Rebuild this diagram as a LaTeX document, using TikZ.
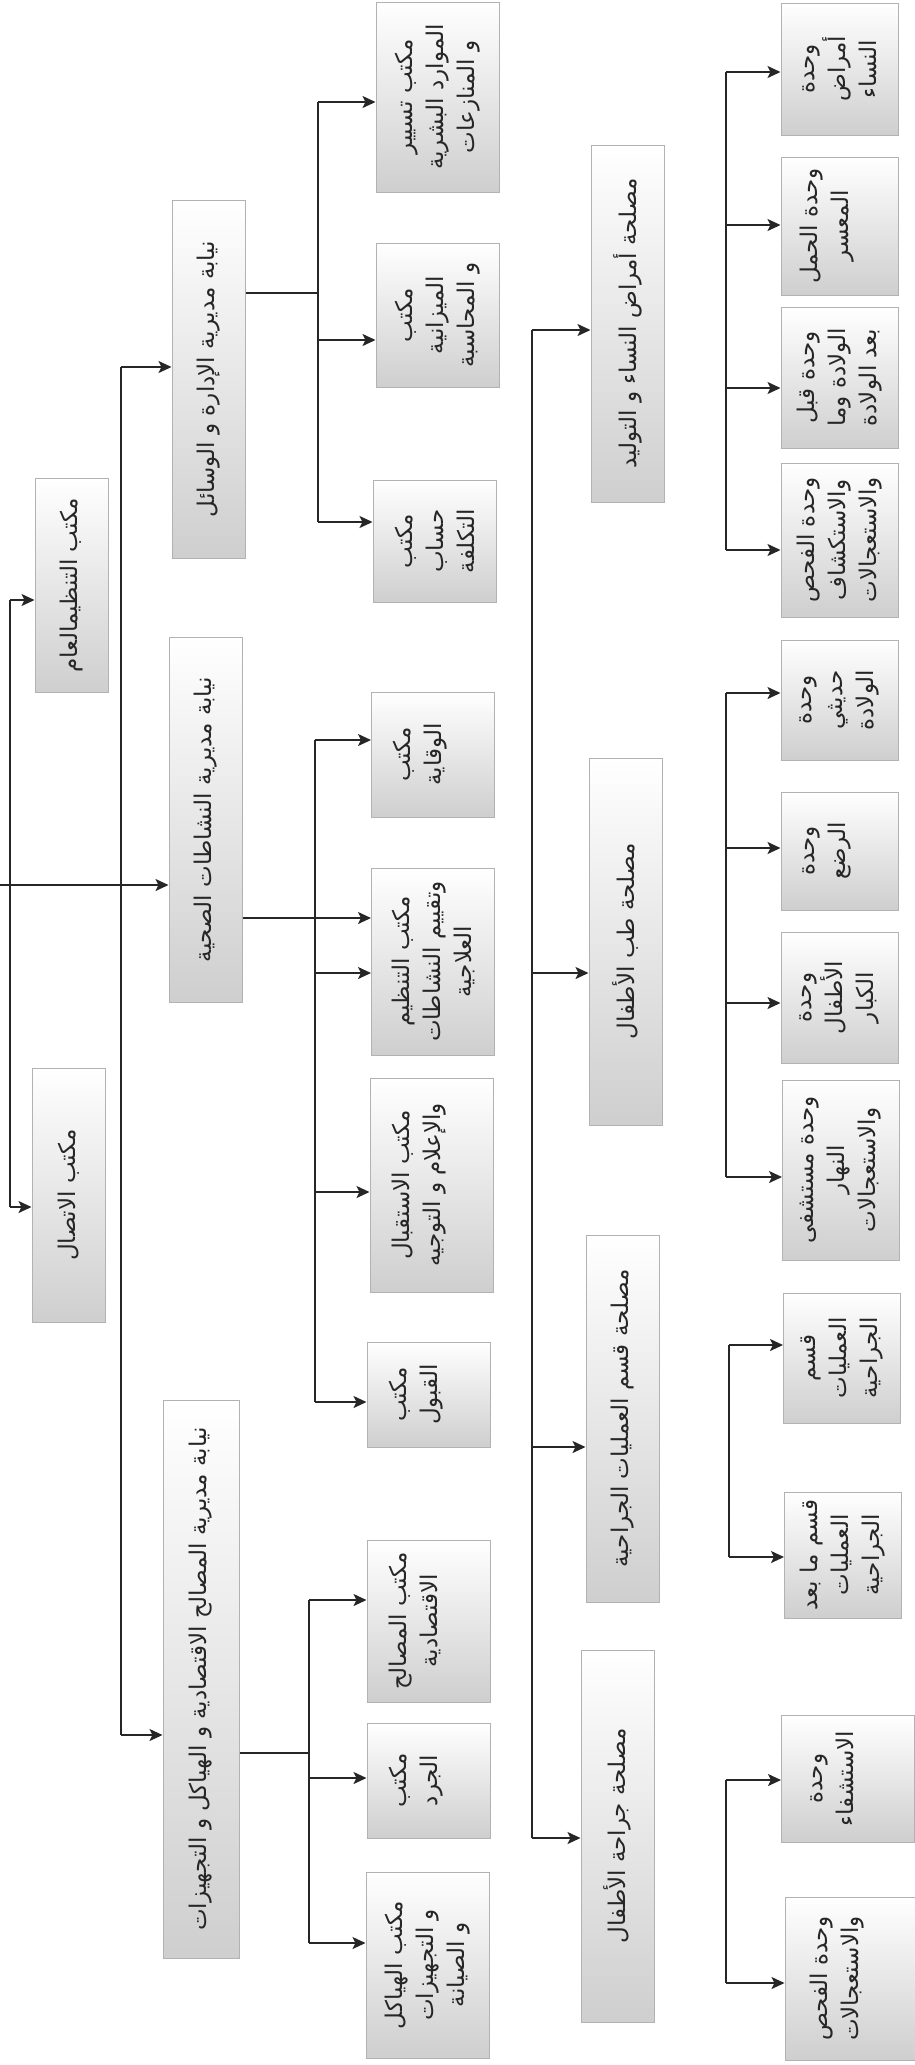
\documentclass[tikz,border=0pt]{standalone}
\usepackage{fontspec}
\newfontfamily\arfont[Script=Arabic]{DejaVu Sans}
\TeXXeTstate=1
\usetikzlibrary{arrows.meta}
\newcommand{\artxt}[1]{\beginR #1\endR}

\begin{document}
\begin{tikzpicture}[x=1pt,y=-1pt,
  box/.style={draw=gray!60,line width=1pt,rotate=90,top color=white,bottom color=gray!38,
    inner sep=2pt,align=center,text=black!85,font=\arfont\fontsize{23}{31}\selectfont},
  top/.style={box,minimum height=73pt},
  off/.style={box,minimum height=123pt},
  unit/.style={box,minimum height=117pt},
  ln/.style={draw=black!85,line width=1.3pt},
  arr/.style={ln,line width=1.8pt,-{Stealth[length=13pt,width=12pt,inset=3pt]}}]
\fill[white] (0,0) rectangle (914,2065);
\useasboundingbox (0,0) rectangle (914,2065);

\node[top,minimum width=214pt] (org) at (71.5,585) {\artxt{مكتب التنظيمالعام}};
\node[top,minimum width=254pt] (comm) at (68.5,1195) {\artxt{مكتب الاتصال}};

\node[top,minimum width=358pt] (adm) at (208.5,379) {\artxt{نيابة مديرية الإدارة و الوسائل}};
\node[top,minimum width=365pt] (hlt) at (205.5,819.5) {\artxt{نيابة مديرية النشاطات الصحية}};
\node[top,minimum width=558pt,minimum height=76pt] (eco) at (201,1679) {\artxt{نيابة مديرية المصالح الاقتصادية و الهياكل و التجهيزات}};

\node[off,minimum width=190pt] (hr) at (437.5,97) {\artxt{مكتب تسيير}\\\artxt{الموارد البشرية}\\\artxt{و المنازعات}};
\node[off,minimum width=144pt] (bud) at (437.5,315) {\artxt{مكتب}\\\artxt{الميزانية}\\\artxt{و المحاسبة}};
\node[off,minimum width=122pt] (cost) at (434.5,541) {\artxt{مكتب}\\\artxt{حساب}\\\artxt{التكلفة}};
\node[off,minimum width=125pt] (prev) at (433,754.5) {\artxt{مكتب}\\\artxt{الوقاية}\\\mbox{}};
\node[off,minimum width=187pt] (plan) at (433,961.5) {\artxt{مكتب التنظيم}\\\artxt{وتقييم النشاطات}\\\artxt{العلاجية}};
\node[off,minimum width=214pt] (recv) at (431.5,1185) {\artxt{مكتب الاستقبال}\\\artxt{والإعلام و التوجيه}\\\mbox{}};
\node[off,minimum width=105pt] (acc) at (428.5,1394.5) {\artxt{مكتب}\\\artxt{القبول}\\\mbox{}};
\node[off,minimum width=162pt] (eserv) at (428.5,1621) {\artxt{مكتب المصالح}\\\artxt{الاقتصادية}\\\mbox{}};
\node[off,minimum width=115pt] (inv) at (428.5,1780.5) {\artxt{مكتب}\\\artxt{الجرد}\\\mbox{}};
\node[off,minimum width=186pt] (maint) at (427.5,1965) {\artxt{مكتب الهياكل}\\\artxt{و التجهيزات}\\\artxt{و الصيانة}};

\node[top,minimum width=357pt] (gyn) at (627.5,323.5) {\artxt{مصلحة أمراض النساء و التوليد}};
\node[top,minimum width=367pt] (ped) at (625.5,941.5) {\artxt{مصلحة طب الأطفال}};
\node[top,minimum width=367pt] (surg) at (622.5,1418.5) {\artxt{مصلحة قسم العمليات الجراحية}};
\node[top,minimum width=372pt] (csurg) at (617.5,1836) {\artxt{مصلحة جراحة الأطفال}};

\node[unit,minimum width=132pt] (u1) at (839.5,69) {\artxt{وحدة}\\\artxt{أمراض}\\\artxt{النساء}};
\node[unit,minimum width=138pt] (u2) at (839.5,226) {\artxt{وحدة الحمل}\\\artxt{المعسر}\\\mbox{}};
\node[unit,minimum width=141pt] (u3) at (839.5,377.5) {\artxt{وحدة قبل}\\\artxt{الولادة وما}\\\artxt{بعد الولادة}};
\node[unit,minimum width=154pt] (u4) at (839.5,540) {\artxt{وحدة الفحص}\\\artxt{والاستكشاف}\\\artxt{والاستعجالات}};
\node[unit,minimum width=120pt] (u5) at (839.5,700) {\artxt{وحدة}\\\artxt{حديثي}\\\artxt{الولادة}};
\node[unit,minimum width=118pt] (u6) at (839.5,851) {\artxt{وحدة}\\\artxt{الرضع}\\\mbox{}};
\node[unit,minimum width=131pt] (u7) at (839.5,997.5) {\artxt{وحدة}\\\artxt{الأطفال}\\\artxt{الكبار}};
\node[unit,minimum width=180pt] (u8) at (841,1170) {\artxt{وحدة مستشفى}\\\artxt{النهار}\\\artxt{والاستعجالات}};
\node[unit,minimum width=130pt] (u9) at (842,1358) {\artxt{قسم}\\\artxt{العمليات}\\\artxt{الجراحية}};
\node[unit,minimum width=126pt] (u10) at (843,1555) {\artxt{قسم ما بعد}\\\artxt{العمليات}\\\artxt{الجراحية}};
\node[unit,minimum width=127pt,minimum height=133pt] (u11) at (848,1778.5) {\artxt{وحدة}\\\artxt{الاستشفاء}\\\mbox{}};
\node[unit,minimum width=163pt,minimum height=130pt] (u12) at (850,1978.5) {\artxt{وحدة الفحص}\\\artxt{والاستعجالات}\\\mbox{}};

\draw[ln] (10,600) -- (10,1207);
\draw[ln] (121,367) -- (121,1735);
\draw[arr] (0,885) -- (hlt.north |- 0,885);
\draw[arr] (10,600) -- (org.north |- 0,600);
\draw[arr] (10,1207) -- (comm.north |- 0,1207);
\draw[arr] (121,367) -- (adm.north |- 0,367);
\draw[arr] (121,1735) -- (eco.north |- 0,1735);

\draw[ln] (adm.south |- 0,293) -- (318,293);
\draw[ln] (318,102) -- (318,522);
\draw[arr] (318,102) -- (hr.north |- 0,102);
\draw[arr] (318,340) -- (bud.north |- 0,340);
\draw[arr] (318,522) -- (cost.north |- 0,522);

\draw[arr] (hlt.south |- 0,918) -- (plan.north |- 0,918);
\draw[ln] (315,740) -- (315,1402);
\draw[arr] (315,740) -- (prev.north |- 0,740);
\draw[arr] (315,973) -- (plan.north |- 0,973);
\draw[arr] (315,1192) -- (recv.north |- 0,1192);
\draw[arr] (315,1402) -- (acc.north |- 0,1402);

\draw[ln] (eco.south |- 0,1753) -- (309,1753);
\draw[ln] (309,1600) -- (309,1943);
\draw[arr] (309,1600) -- (eserv.north |- 0,1600);
\draw[arr] (309,1778) -- (inv.north |- 0,1778);
\draw[arr] (309,1943) -- (maint.north |- 0,1943);

\draw[ln] (532,330) -- (532,1838);
\draw[arr] (532,330) -- (gyn.north |- 0,330);
\draw[arr] (532,973) -- (ped.north |- 0,973);
\draw[arr] (532,1447) -- (surg.north |- 0,1447);
\draw[arr] (532,1838) -- (csurg.north |- 0,1838);

\draw[ln] (726,72) -- (726,550);
\draw[arr] (726,72) -- (u1.north |- 0,72);
\draw[arr] (726,225) -- (u2.north |- 0,225);
\draw[arr] (726,388) -- (u3.north |- 0,388);
\draw[arr] (726,550) -- (u4.north |- 0,550);

\draw[ln] (726,693) -- (726,1177);
\draw[arr] (726,693) -- (u5.north |- 0,693);
\draw[arr] (726,848) -- (u6.north |- 0,848);
\draw[arr] (726,1003) -- (u7.north |- 0,1003);
\draw[arr] (726,1177) -- (u8.north |- 0,1177);

\draw[ln] (729,1345) -- (729,1557);
\draw[arr] (729,1345) -- (u9.north |- 0,1345);
\draw[arr] (729,1557) -- (u10.north |- 0,1557);

\draw[ln] (726,1780) -- (726,1983);
\draw[arr] (726,1780) -- (u11.north |- 0,1780);
\draw[arr] (726,1983) -- (u12.north |- 0,1983);
\end{tikzpicture}
\end{document}
